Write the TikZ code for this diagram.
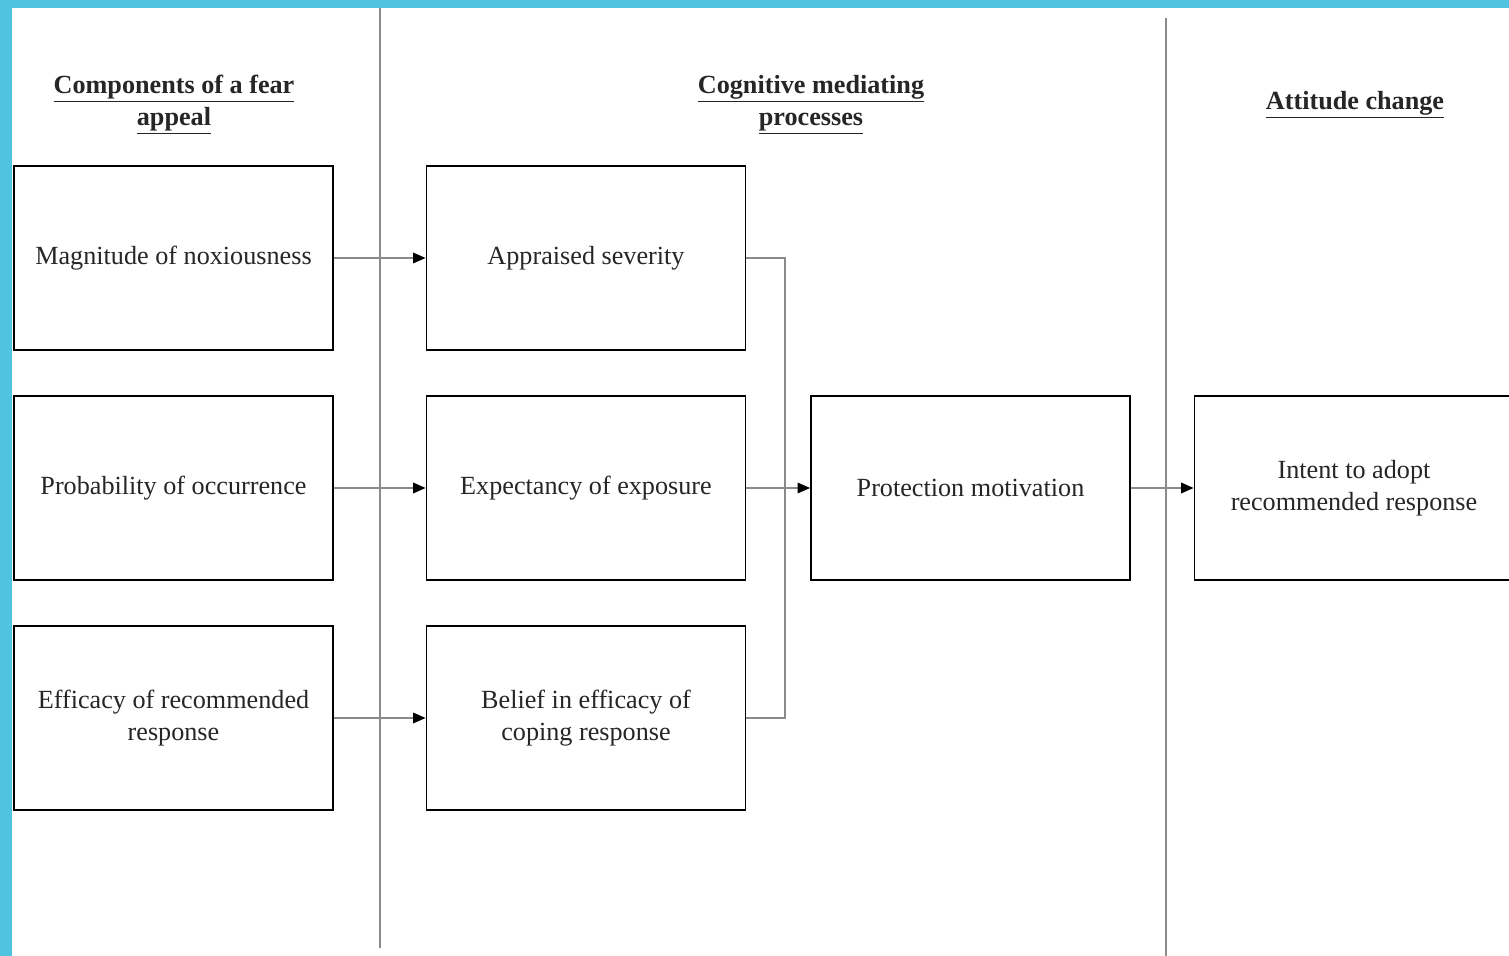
\documentclass[tikz,border=0pt]{standalone}
\usepackage{fontspec}
\setmainfont{Liberation Serif}
\usepackage{tikz}
\usetikzlibrary{arrows.meta}

\definecolor{frame}{HTML}{4FC3E0}
\definecolor{rule}{HTML}{8A8A8A}

\begin{document}
\begin{tikzpicture}[
    box/.style={draw=black, line width=1.1pt, minimum width=6.38cm, minimum height=3.68cm,
                inner sep=0pt, align=center, text=black!85, font=\fontsize{14.9}{18.2}\selectfont},
    head/.style={align=center, text=black!85, font=\fontsize{14.9}{18.2}\selectfont\bfseries},
    link/.style={draw=rule, line width=0.6pt},
    tip/.style={link, -{Triangle[length=7pt,width=6pt,color=black]}}
]

% page and cyan frame
\useasboundingbox (0,0) rectangle (30.18,-19.12);
\fill[white] (0,0) rectangle (30.18,-19.12);
\fill[frame] (0,0) rectangle (30.18,-0.16);
\fill[frame] (0,0) rectangle (0.24,-19.12);

% column dividers
\draw[rule, line width=0.9pt] (7.6,-0.16) -- (7.6,-18.96);
\draw[rule, line width=0.9pt] (23.32,-0.36) -- (23.32,-19.12);

% headings
\node[head] (hcomp) at (3.48,-2.1) {\underline{Components of a fear}\\\underline{appeal}};
\node[head] (hcog)  at (16.22,-2.1) {\underline{Cognitive mediating}\\\underline{processes}};
\node[head] (hatt)  at (27.1,-2.1) {\underline{Attitude change}};

% components of a fear appeal
\node[box] (mag) at (3.47,-5.16)  {Magnitude of noxiousness};
\node[box] (prob) at (3.47,-9.76) {Probability of occurrence};
\node[box] (eff) at (3.47,-14.36) {Efficacy of recommended\\response};

% cognitive mediating processes
\node[box] (sev) at (11.72,-5.16)  {Appraised severity};
\node[box] (exps) at (11.72,-9.76) {Expectancy of exposure};
\node[box] (bel) at (11.72,-14.36) {Belief in efficacy of\\coping response};
\node[box] (prot) at (19.41,-9.76) {Protection motivation};

% attitude change
\node[box] (intent) at (27.08,-9.76) {Intent to adopt\\recommended response};

% arrows
\draw[tip] (mag) -- (sev);
\draw[tip] (prob) -- (exps);
\draw[tip] (eff) -- (bel);
\coordinate (jn) at (15.7,-9.76);
\draw[link] (sev.east) -- (sev.east -| jn) -- (bel.east -| jn) -- (bel.east);
\draw[tip] (exps) -- (prot);
\draw[tip] (prot) -- (intent);

\end{tikzpicture}
\end{document}
